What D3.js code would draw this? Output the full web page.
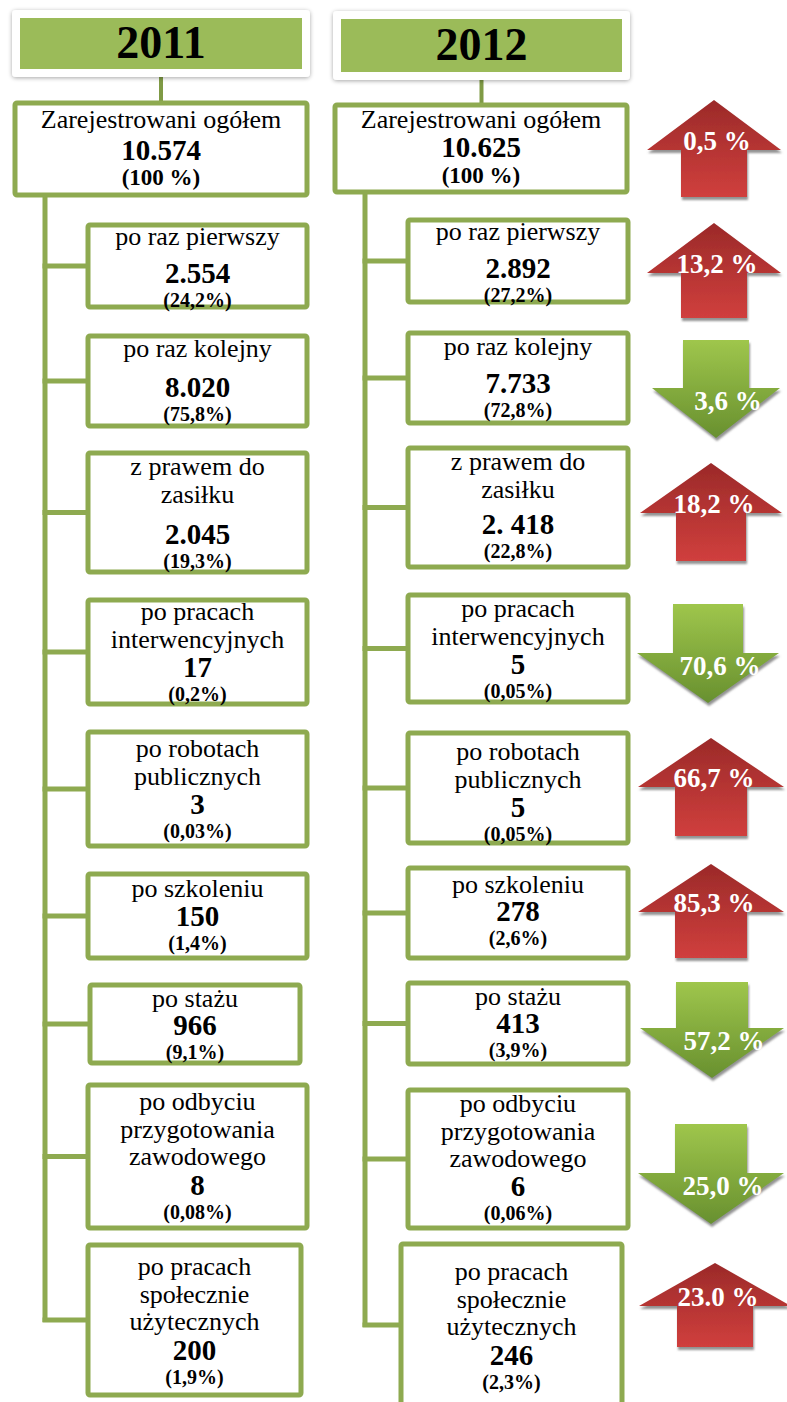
<!DOCTYPE html>
<html>
<head>
<meta charset="utf-8">
<script src="https://cdn.jsdelivr.net/npm/d3@7"></script>
<style>
  body { margin: 0; background: #fff; }
</style>
</head>
<body>
<script>
// data
var years = ["2011", "2012"];
var totalLabel = "Zarejestrowani ogółem";
var totals = ["10.574", "10.625"];
var totalPct = ["(100 %)", "(100 %)"];
var labels = [
  ["po raz pierwszy"],
  ["po raz kolejny"],
  ["z prawem do", "zasiłku"],
  ["po pracach", "interwencyjnych"],
  ["po robotach", "publicznych"],
  ["po szkoleniu"],
  ["po stażu"],
  ["po odbyciu", "przygotowania", "zawodowego"],
  ["po pracach", "społecznie", "użytecznych"]
];
var values2011 = ["2.554", "8.020", "2.045", "17", "3", "150", "966", "8", "200"];
var pct2011 = ["(24,2%)", "(75,8%)", "(19,3%)", "(0,2%)", "(0,03%)", "(1,4%)", "(9,1%)", "(0,08%)", "(1,9%)"];
var values2012 = ["2.892", "7.733", "2. 418", "5", "5", "278", "413", "6", "246"];
var pct2012 = ["(27,2%)", "(72,8%)", "(22,8%)", "(0,05%)", "(0,05%)", "(2,6%)", "(3,9%)", "(0,06%)", "(2,3%)"];
var changes = ["0,5 %", "13,2 %", "3,6 %", "18,2 %", "70,6 %", "66,7 %", "85,3 %", "57,2 %", "25,0 %", "23.0 %"];
var directions = ["up", "up", "down", "up", "down", "up", "up", "down", "down", "up"];

// layout (pixel positions of the diagram)
var cols = [
  { header: {x0: 12, x1: 310, y0: 10, y1: 77, ty: 58},
    top: {x0: 15, x1: 307, y0: 103, y1: 195, b: [128, 160, 185]},
    spineX: 45, bx0: 88, bx1: 307,
    boxes: [
      {y0: 225, y1: 307, b: 245, gap: 38},
      {y0: 336, y1: 426, b: 357, gap: 40},
      {y0: 453, y1: 572, b: 475, gap: 41},
      {y0: 600, y1: 704, b: 620, gap: 29},
      {y0: 732, y1: 846, b: 757, gap: 29},
      {y0: 874, y1: 958, b: 897, gap: 29},
      {y0: 985, y1: 1063, b: 1007, gap: 28, x0: 90, x1: 300},
      {y0: 1085, y1: 1228, b: 1110, gap: 30},
      {y0: 1245, y1: 1395, b: 1275, gap: 30, x0: 88, x1: 301}
    ]},
  { header: {x0: 333, x1: 630, y0: 11, y1: 80, ty: 60},
    top: {x0: 335, x1: 627, y0: 105, y1: 192, b: [128, 157, 183]},
    spineX: 365, bx0: 408, bx1: 628,
    boxes: [
      {y0: 220, y1: 302, b: 240, gap: 38},
      {y0: 333, y1: 423, b: 355, gap: 38},
      {y0: 448, y1: 567, b: 470, gap: 36},
      {y0: 595, y1: 702, b: 617, gap: 29},
      {y0: 733, y1: 843, b: 760, gap: 29},
      {y0: 868, y1: 958, b: 893, gap: 28},
      {y0: 983, y1: 1064, b: 1005, gap: 28},
      {y0: 1090, y1: 1228, b: 1112, gap: 29},
      {y0: 1244, y1: 1420, b: 1280, gap: 30, x0: 401, x1: 622}
    ]}
];
var arrows = [
  {top: 100, head: 150, bottom: 197, cx: 714, hh: 67, hs: 33},
  {top: 223, head: 273, bottom: 318, cx: 714, hh: 67, hs: 33},
  {top: 340, head: 388, bottom: 438, cx: 716, hh: 64, hs: 33},
  {top: 463, head: 513, bottom: 561, cx: 711, hh: 71, hs: 35},
  {top: 604, head: 653, bottom: 703, cx: 708, hh: 71, hs: 35},
  {top: 738, head: 787, bottom: 836, cx: 711, hh: 73, hs: 36},
  {top: 864, head: 912, bottom: 958, cx: 711, hh: 73, hs: 36},
  {top: 982, head: 1028, bottom: 1078, cx: 712, hh: 72, hs: 36},
  {top: 1124, head: 1173, bottom: 1224, cx: 711, hh: 73, hs: 36},
  {top: 1263, head: 1306, bottom: 1347, cx: 715, hh: 76, hs: 38}
];

var values = [values2011, values2012];
var pcts = [pct2011, pct2012];
var green = "#9bbb59", border = "#8eaa50";
var serif = "'Liberation Serif', 'Times New Roman', serif";

var svg = d3.select("body").append("svg")
  .attr("width", 787)
  .attr("height", 1402);

var defs = svg.append("defs");
var sh = defs.append("filter").attr("id", "cardShadow")
  .attr("x", "-10%").attr("y", "-20%").attr("width", "120%").attr("height", "150%");
sh.append("feDropShadow").attr("dx", 0).attr("dy", 1).attr("stdDeviation", 2)
  .attr("flood-color", "#000").attr("flood-opacity", 0.35);
var ash = defs.append("filter").attr("id", "arrowShadow")
  .attr("x", "-10%").attr("y", "-10%").attr("width", "130%").attr("height", "130%");
ash.append("feDropShadow").attr("dx", 1).attr("dy", 3).attr("stdDeviation", 0.8)
  .attr("flood-color", "#777").attr("flood-opacity", 0.8);

var red = defs.append("linearGradient").attr("id", "redGrad")
  .attr("x1", 0).attr("y1", 0).attr("x2", 0).attr("y2", 1);
red.append("stop").attr("offset", "0%").attr("stop-color", "#9b2a29");
red.append("stop").attr("offset", "100%").attr("stop-color", "#d03f3d");
var grn = defs.append("linearGradient").attr("id", "greenGrad")
  .attr("x1", 0).attr("y1", 0).attr("x2", 0).attr("y2", 1);
grn.append("stop").attr("offset", "0%").attr("stop-color", "#9fc64c");
grn.append("stop").attr("offset", "100%").attr("stop-color", "#68902f");

// small helper for centred serif text
function label(g, x, y, size, bold, txt) {
  return g.append("text")
    .attr("x", x).attr("y", y)
    .attr("text-anchor", "middle")
    .attr("font-size", size)
    .attr("font-weight", bold ? "bold" : "normal")
    .style("font-family", serif)
    .text(txt);
}

cols.forEach(function(c, ci) {
  var g = svg.append("g");
  var h = c.header;
  var hx = (h.x0 + h.x1) / 2;

  // header to top box
  g.append("line")
    .attr("x1", hx).attr("x2", hx)
    .attr("y1", h.y1).attr("y2", c.top.y0)
    .attr("stroke", "#7f9a45").attr("stroke-width", 4);

  // spine + connectors
  var last = c.boxes[c.boxes.length - 1];
  var lastMid = (last.y0 + Math.min(last.y1, 1395)) / 2;
  if (ci == 1) lastMid = 1325;
  g.append("line")
    .attr("x1", c.spineX).attr("x2", c.spineX)
    .attr("y1", c.top.y1).attr("y2", lastMid + 2)
    .attr("stroke", border).attr("stroke-width", 5);
  c.boxes.forEach(function(b, i) {
    var my = (i == c.boxes.length - 1) ? lastMid : (b.y0 + b.y1) / 2;
    g.append("line")
      .attr("x1", c.spineX - 2.5).attr("x2", (b.x0 || c.bx0))
      .attr("y1", my).attr("y2", my)
      .attr("stroke", border).attr("stroke-width", 5);
  });

  // header card
  g.append("rect")
    .attr("x", h.x0).attr("y", h.y0)
    .attr("width", h.x1 - h.x0).attr("height", h.y1 - h.y0)
    .attr("rx", 4).attr("fill", "#fff")
    .attr("filter", "url(#cardShadow)");
  g.append("rect")
    .attr("x", h.x0 + 8).attr("y", h.y0 + 8)
    .attr("width", h.x1 - h.x0 - 16).attr("height", h.y1 - h.y0 - 16)
    .attr("fill", green);
  label(g, hx, h.ty, 46, true, years[ci]);

  // top box
  var t = c.top, tx = (t.x0 + t.x1) / 2;
  g.append("rect")
    .attr("x", t.x0).attr("y", t.y0)
    .attr("width", t.x1 - t.x0).attr("height", t.y1 - t.y0)
    .attr("rx", 2).attr("fill", "#fff")
    .attr("stroke", border).attr("stroke-width", 5);
  label(g, tx, t.b[0], 26, false, totalLabel);
  label(g, tx, t.b[1], 29, true, totals[ci]);
  label(g, tx, t.b[2], 23, true, totalPct[ci]);

  // category boxes
  c.boxes.forEach(function(b, i) {
    var x0 = b.x0 || c.bx0, x1 = b.x1 || c.bx1;
    var cx = (x0 + x1) / 2;
    g.append("rect")
      .attr("x", x0).attr("y", b.y0)
      .attr("width", x1 - x0).attr("height", b.y1 - b.y0)
      .attr("rx", 2).attr("fill", "#fff")
      .attr("stroke", border).attr("stroke-width", 5);
    labels[i].forEach(function(l, li) {
      label(g, cx, b.b + li * 27.5, 26, false, l);
    });
    var vy = b.b + (labels[i].length - 1) * 27.5 + b.gap;
    label(g, cx, vy, 29, true, values[ci][i]);
    label(g, cx, vy + 24, 20, true, pcts[ci][i]);
  });
});

// change arrows
var arrowPath = function(a, dir) {
  var p = d3.path();
  if (dir == "up") {
    p.moveTo(a.cx, a.top);
    p.lineTo(a.cx + a.hh, a.head);
    p.lineTo(a.cx + a.hs, a.head);
    p.lineTo(a.cx + a.hs, a.bottom);
    p.lineTo(a.cx - a.hs, a.bottom);
    p.lineTo(a.cx - a.hs, a.head);
    p.lineTo(a.cx - a.hh, a.head);
  } else {
    p.moveTo(a.cx - a.hs, a.top);
    p.lineTo(a.cx + a.hs, a.top);
    p.lineTo(a.cx + a.hs, a.head);
    p.lineTo(a.cx + a.hh, a.head);
    p.lineTo(a.cx, a.bottom);
    p.lineTo(a.cx - a.hh, a.head);
    p.lineTo(a.cx - a.hs, a.head);
  }
  p.closePath();
  return p.toString();
};

var ag = svg.append("g").selectAll("g")
  .data(arrows)
  .enter().append("g");
ag.append("path")
  .attr("d", function(a, i) { return arrowPath(a, directions[i]); })
  .attr("fill", function(a, i) { return directions[i] == "up" ? "url(#redGrad)" : "url(#greenGrad)"; })
  .attr("filter", "url(#arrowShadow)");
ag.append("text")
  .attr("x", function(a, i) { return directions[i] == "up" ? a.cx + 3 : a.cx + 12; })
  .attr("y", function(a, i) { return directions[i] == "up" ? a.head : a.head + 22; })
  .attr("text-anchor", "middle")
  .attr("font-size", 27).attr("font-weight", "bold")
  .style("font-family", serif)
  .attr("fill", "#fff")
  .text(function(a, i) { return changes[i]; });
</script>
</body>
</html>
